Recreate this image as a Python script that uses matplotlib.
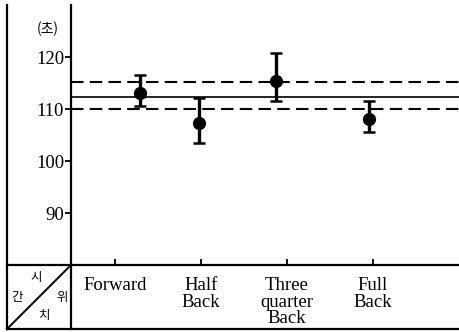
import matplotlib
matplotlib.use("Agg")
import matplotlib.pyplot as plt
from matplotlib.lines import Line2D

categories = ["Forward", "Half\nBack", "Three\nquarter\nBack", "Full\nBack"]
point_x = [1.29, 1.98, 2.87, 3.95]
means = [113.0, 107.3, 115.4, 108.1]
err_hi = [116.5, 112.2, 120.7, 111.6]
err_lo = [110.6, 103.5, 111.6, 105.6]
overall_mean = 112.4
band_hi = 115.1
band_lo = 110.0
yticks = [90, 100, 110, 120]

W, H = 459, 332
fig = plt.figure(figsize=(W / 100, H / 100), dpi=100)
serif = ["Liberation Serif", "DejaVu Serif"]
kr = ["Noto Sans CJK KR", "DejaVu Sans"]

ax_left, ax_bot, ax_top = 71 / W, (H - 265) / H, (H - 5) / H
ax = fig.add_axes([ax_left, ax_bot, 1 - ax_left, ax_top - ax_bot])
ax.set_xlim(0.49, 5.0)
ax.set_ylim(80, 130)
for s in ["top", "right", "bottom"]:
    ax.spines[s].set_visible(False)
ax.spines["left"].set_linewidth(1.6)

ax.set_yticks(yticks)
ax.set_yticklabels([str(v) for v in yticks], fontfamily=serif, fontsize=13.5)
ax.tick_params(axis="y", direction="out", length=4, width=1.3, pad=1)
ax.set_xticks([1, 2, 3, 4])
ax.set_xticklabels(categories, fontfamily=serif, fontsize=13.5, linespacing=0.95, va="top")
ax.tick_params(axis="x", direction="in", length=4, width=1.3, pad=9)

ax.axhline(overall_mean, color="black", lw=1.2)
ax.axhline(band_hi, color="black", lw=1.5, ls=(0, (6, 3)))
ax.axhline(band_lo, color="black", lw=1.5, ls=(0, (6, 3)))

lower = [m - l for m, l in zip(means, err_lo)]
upper = [h - m for m, h in zip(means, err_hi)]
ax.errorbar(point_x, means, yerr=[lower, upper], fmt="o", color="black",
            ms=8.5, elinewidth=2.4, capsize=4, capthick=1.8)

# outer frame / table lines
def fl(x0, y0, x1, y1, lw=1.6):
    fig.add_artist(Line2D([x0 / W, x1 / W], [1 - y0 / H, 1 - y1 / H],
                          color="black", lw=lw, transform=fig.transFigure))

fl(7, 5, 7, 329)
fl(71, 265, 71, 329)
fl(7, 265, W, 265)
fl(7, 329, W, 329)
fl(7, 329, 71, 265, lw=1.4)

fig.text(48 / W, 1 - 29 / H, "(초)", fontfamily=kr, fontsize=10, ha="center", va="center")
for ch, x, y in [("시", 36, 277), ("간", 17, 297), ("위", 62, 297), ("치", 44, 315)]:
    fig.text(x / W, 1 - y / H, ch, fontfamily=kr, fontsize=9, ha="center", va="center")

fig.savefig("out.png", dpi=100)
